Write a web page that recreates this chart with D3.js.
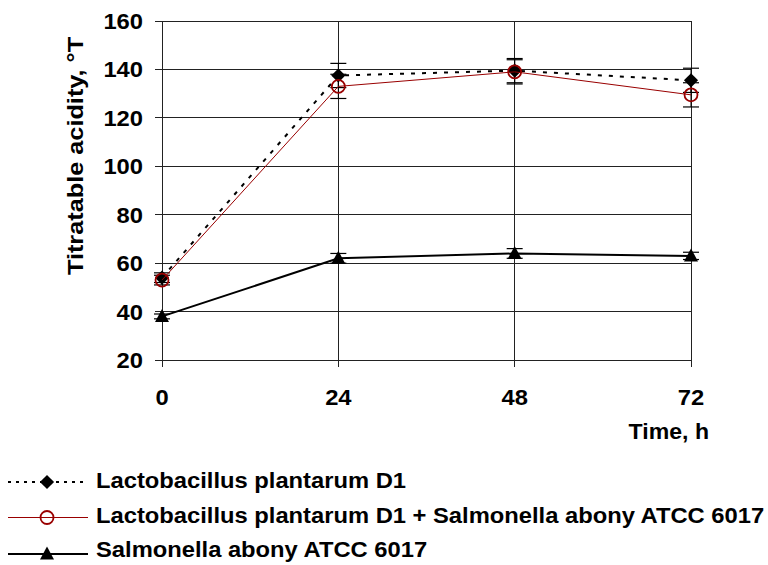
<!DOCTYPE html>
<html><head><meta charset="utf-8">
<script src="https://cdn.jsdelivr.net/npm/d3@7"></script>
<style>body{margin:0;background:#fff}svg{display:block}text{font-family:"Liberation Sans",Arial,sans-serif;font-weight:bold;fill:#000}</style>
</head><body><svg id="c" width="768" height="565"></svg>
<script>
const times = [0, 24, 48, 72];
const lpValues = [54, 137.5, 139.5, 135.5];
const lpErrors = [2, 5, 5, 5];
const mixValues = [53, 133, 139, 129.5];
const mixErrors = [2, 5, 5, 5];
const salValues = [38, 62, 64, 63];
const salErrors = [1, 2, 2, 1.5];
const yTicks = [20, 40, 60, 80, 100, 120, 140, 160];
const seriesNames = ["Lactobacillus plantarum D1", "Lactobacillus plantarum D1 + Salmonella abony ATCC 6017", "Salmonella abony ATCC 6017"];

const svg = d3.select("#c");
const x = d3.scaleLinear().domain([0, 72]).range([162, 691]);
const y = d3.scaleLinear().domain([20, 160]).range([360, 21]);
const FS = 22, SX = 1.08;

function label(sel, tx, ty, txt, anchor, sx, rot) {
  sel.append("text")
    .attr("transform", `translate(${tx},${ty})${rot ? " rotate(" + rot + ")" : ""} scale(${sx},1)`)
    .attr("text-anchor", anchor).attr("font-size", FS).text(txt);
}

// grid
const g = svg.append("g");
g.selectAll(".hg").data(yTicks).enter().append("line")
  .attr("x1", 155).attr("x2", 691).attr("y1", d => y(d)).attr("y2", d => y(d))
  .attr("stroke", "#222").attr("stroke-width", 1).attr("shape-rendering", "crispEdges");
g.selectAll(".vg").data(times).enter().append("line")
  .attr("x1", d => x(d)).attr("x2", d => x(d)).attr("y1", 21).attr("y2", 367)
  .attr("stroke", "#222").attr("stroke-width", 1).attr("shape-rendering", "crispEdges");

// tick labels
yTicks.forEach(d => label(g, 143, y(d) + 8, d, "end", SX));
times.forEach(d => label(g, x(d), 405, d, "middle", SX));

label(svg, 83, 156, "Titratable acidity, °T", "middle", 1.15, -90);
label(svg, 709, 439, "Time, h", "end", 1.05);

const series = [
  {vals: lpValues, errs: lpErrors, color: "#000", width: 2, dash: "4,7", legDash: "3,5", marker: "diamond"},
  {vals: mixValues, errs: mixErrors, color: "#990000", width: 1, dash: null, legDash: null, marker: "circle"},
  {vals: salValues, errs: salErrors, color: "#000", width: 2, dash: null, legDash: null, marker: "triangle"}
];

function drawMarker(sel, type, cx, cy, color) {
  if (type === "diamond") {
    sel.append("path").attr("transform", `translate(${cx},${cy}) rotate(45)`)
      .attr("d", "M-5,-5H5V5H-5Z").attr("fill", "#000");
  } else if (type === "circle") {
    sel.append("circle").attr("cx", cx).attr("cy", cy).attr("r", 6.5)
      .attr("fill", "none").attr("stroke", color).attr("stroke-width", 1.8);
  } else {
    sel.append("path").attr("transform", `translate(${cx},${cy})`)
      .attr("d", "M0,-7.5L7,5.5H-7Z").attr("fill", "#000");
  }
}

const line = d3.line().x((d, i) => x(times[i])).y(d => y(d));
series.forEach(s => {
  const sg = svg.append("g");
  s.vals.forEach((v, i) => {
    const cx = x(times[i]);
    sg.append("line").attr("x1", cx).attr("x2", cx).attr("y1", y(v - s.errs[i])).attr("y2", y(v + s.errs[i]))
      .attr("stroke", "#000").attr("stroke-width", 1);
    [v - s.errs[i], v + s.errs[i]].forEach(e => {
      sg.append("line").attr("x1", cx - 8).attr("x2", cx + 8).attr("y1", y(e)).attr("y2", y(e))
        .attr("stroke", "#000").attr("stroke-width", 1.2);
    });
  });
  sg.append("path").attr("d", line(s.vals)).attr("fill", "none")
    .attr("stroke", s.color).attr("stroke-width", s.width).attr("stroke-dasharray", s.dash);
  s.vals.forEach((v, i) => drawMarker(sg, s.marker, x(times[i]), y(v), s.color));
});

// legend
const legLineY = [482, 517.5, 554];
const legTextY = [488, 523, 557];
series.forEach((s, i) => {
  const lg = svg.append("g");
  lg.append("line").attr("x1", 8).attr("x2", 88).attr("y1", legLineY[i]).attr("y2", legLineY[i])
    .attr("stroke", s.color).attr("stroke-width", s.marker === "circle" ? 1 : 2).attr("stroke-dasharray", s.legDash);
  drawMarker(lg, s.marker, 47, legLineY[i], s.color);
  label(lg, 96, legTextY[i], seriesNames[i], "start", SX);
});
</script></body></html>
